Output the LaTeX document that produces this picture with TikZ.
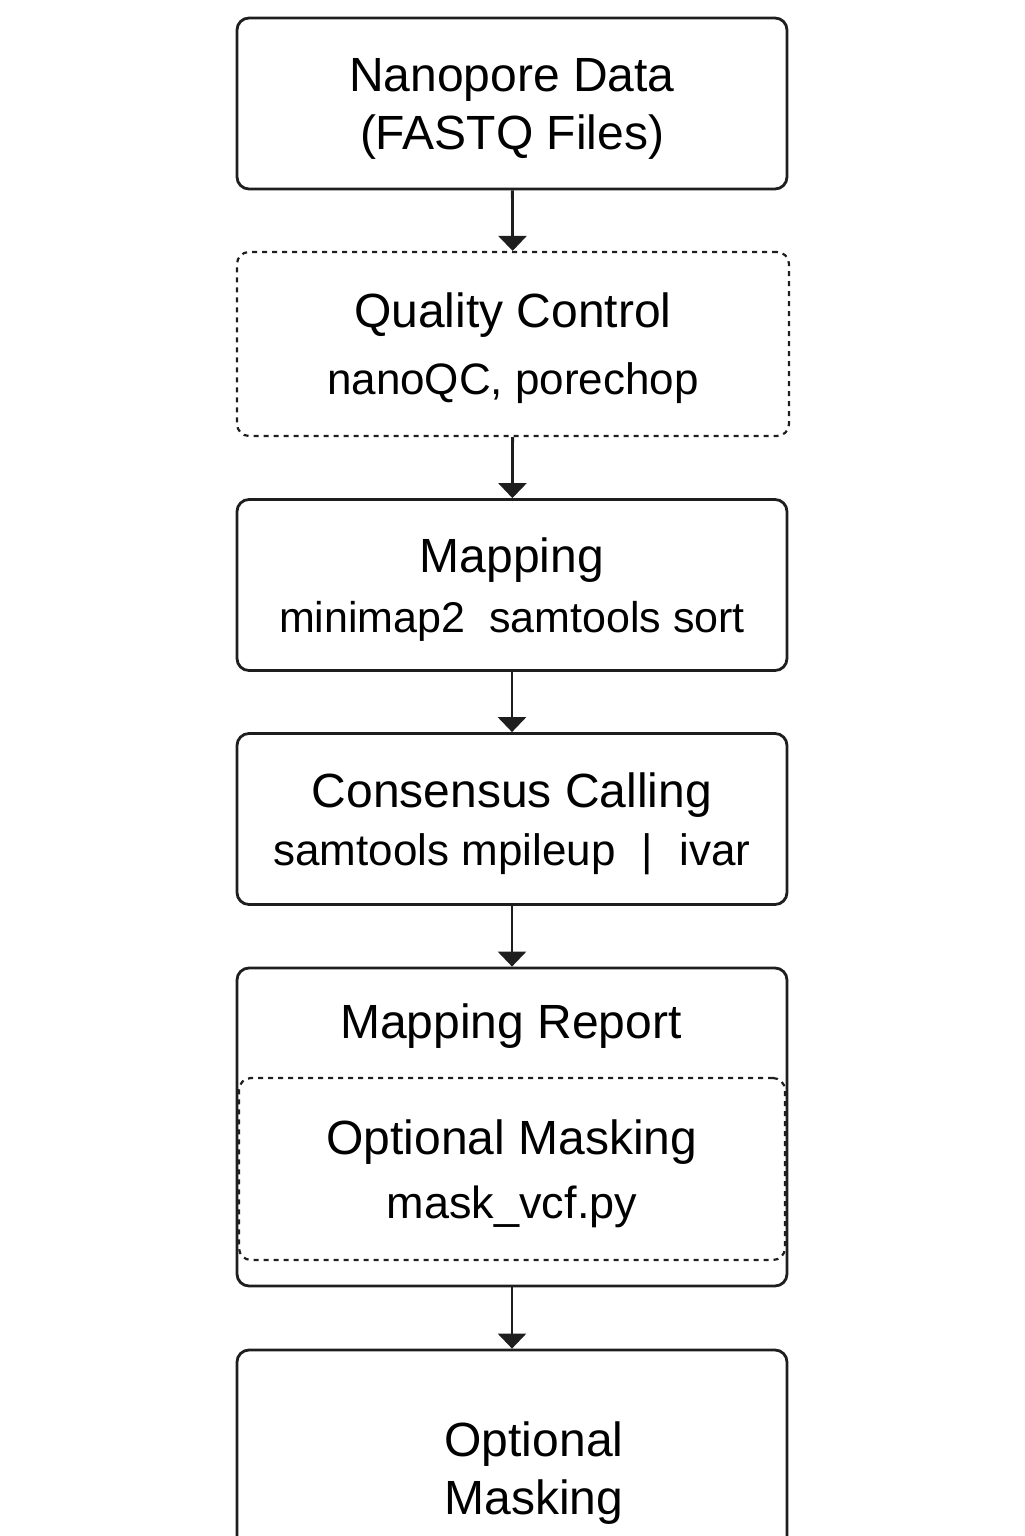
\documentclass[tikz,border=0pt]{standalone}
\usepackage{fontspec}
\setmainfont{Liberation Sans}
\usetikzlibrary{arrows.meta}
\definecolor{ink}{HTML}{1E1E1E}
\newcommand{\titlesize}{\fontsize{24}{29}\selectfont}
\newcommand{\toolsize}{\fontsize{22}{29}\selectfont}
\tikzset{
  stage/.style={draw=ink, line width=1.4pt, rounded corners=6pt, minimum width=275pt, minimum height=85.5pt, align=center, text depth=0pt, font=\titlesize},
  optstage/.style={stage, line width=1.1pt, dash pattern=on 2.5pt off 2.5pt},
  flow/.style={-{Triangle[width=14pt, length=7.5pt]}, draw=ink, line width=1.4pt}
}
\begin{document}
\begin{tikzpicture}[x=0.5pt, y=-0.5pt]
\useasboundingbox (0,0) rectangle (1024,1536);

\node[stage] (raw) at (512,103.5) {Nanopore Data\\(FASTQ Files)};
\node[optstage, minimum width=276pt, minimum height=92pt] (qc) at (513,344) {Quality Control\\[4.5pt]{\toolsize nanoQC, porechop}};
\node[stage] (map) at (512,585) {Mapping\\[1pt]{\fontsize{21.5}{29}\selectfont minimap2\ \ samtools sort}};
\node[stage] (cons) at (512,819) {Consensus Calling\\{\toolsize samtools mpileup\hspace{0.6em}|\hspace{0.6em}ivar}};

\node[stage, minimum height=159pt] (report) at (512,1127) {};
\node[font=\titlesize] (reporttitle) at (511,1026) {Mapping Report};
\node[optstage, minimum width=273pt, minimum height=91pt] (mask) at (512,1169) {Optional Masking\\[3pt]{\fontsize{22.5}{29}\selectfont mask\_vcf.py}};

\node[stage, minimum height=125pt] (final) at (512,1475) {};
\node[font=\titlesize, align=center, text depth=0pt] (finaltext) at (534,1468) {Optional\\Masking};

\foreach \a/\b in {raw/qc, qc/map, map/cons, cons/report, report/final}
\draw[flow] (\a) -- (\b);
\end{tikzpicture}
\end{document}
